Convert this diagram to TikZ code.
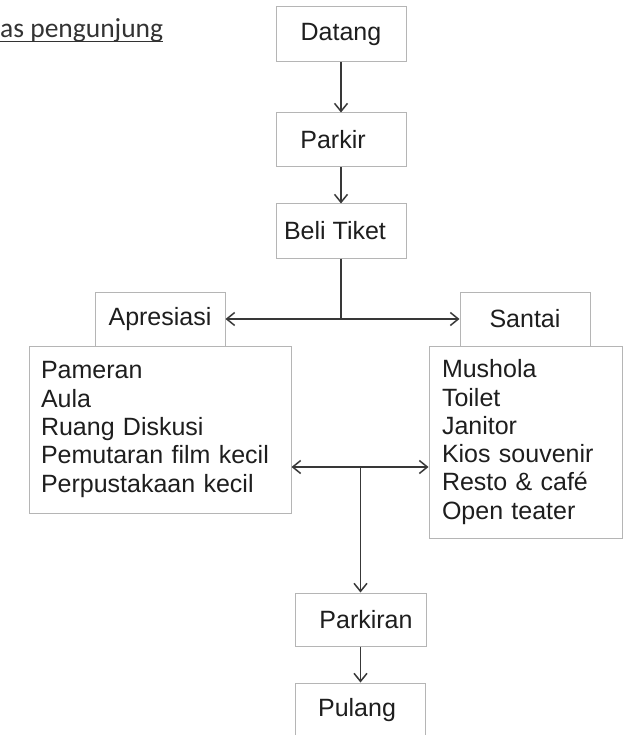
\documentclass[tikz,border=0pt]{standalone}
\usepackage{fontspec}
\setmainfont{Liberation Sans}
\newfontfamily\titlefont{Carlito}
\usetikzlibrary{arrows.meta}
\definecolor{boxgray}{HTML}{B5B5B5}
\definecolor{linegray}{HTML}{383838}
\definecolor{textgray}{HTML}{1E1E1E}
\definecolor{titlegray}{HTML}{333333}
\begin{document}
\begin{tikzpicture}[x=1pt,y=-1pt,
  box/.style={draw=boxgray, line width=1pt, rectangle, inner sep=0pt, text=textgray,
    font=\fontsize{25}{28.3}\selectfont},
  flowbox/.style={box, minimum width=130pt, minimum height=54pt},
  listbox/.style={box, align=left},
  conn/.style={draw=linegray, line width=1.5pt},
  tip/.style={-{Straight Barb[length=8pt,width=13pt,line width=1.5pt]}},
]
\useasboundingbox (0,0) rectangle (636,735);
\clip (0,0) rectangle (636,735);
\fill[white] (0,0) rectangle (636,735);

% title
\node[anchor=base west, inner sep=0pt, font=\titlefont\fontsize{27.5}{30}\selectfont, text=titlegray] (title) at (0,38) {as pengunjung};
\draw[titlegray, line width=0.9pt] ([yshift=1.5pt]title.south west) -- ([yshift=1.5pt]title.south east);

% flow boxes
\node[flowbox, minimum height=55pt] (datang) at (341,34.5) {Datang};
\node[flowbox] (parkir) at (341,140) {\hspace*{-16pt}Parkir};
\node[flowbox] (beli) at (341,231) {\hspace*{-12pt}Beli Tiket};
\node[flowbox] (apresiasi) at (160,319) {Apresiasi};
\node[flowbox] (santai) at (525,319) {Santai};
\node[listbox, minimum width=262pt, minimum height=167pt, text width=238pt, inner xsep=12pt] (listA) at (160,429.5)
  {Pameran\\Aula\\Ruang Diskusi\\Pemutaran film kecil\\Perpustakaan kecil};
\node[listbox, minimum width=193pt, minimum height=192pt, text width=167pt, inner xsep=13pt] (listB) at (525.5,442)
  {Mushola\\Toilet\\Janitor\\Kios souvenir\\Resto \& café\\Open teater};
\node[flowbox, minimum width=131pt, minimum height=53pt] (parkiran) at (360.5,619.5) {Parkiran\hspace*{-11pt}};
\node[flowbox, minimum width=130pt] (pulang) at (360.5,710) {\hspace*{-7pt}Pulang};

% connectors
\draw[conn,tip] (datang) -- (parkir);
\draw[conn,tip] (parkir) -- (beli);
\coordinate (j1) at (341,319);
\draw[conn] (beli.south) -- (j1);
\draw[conn,tip] (j1) -- (apresiasi.east);
\draw[conn,tip] (j1) -- (santai.west);
\coordinate (j2) at (360.5,467);
\draw[conn,tip] (j2) -- (listA.east |- j2);
\draw[conn,tip] (j2) -- (listB.west |- j2);
\draw[conn,tip] (j2) -- (parkiran.north);
\draw[conn,tip] (parkiran) -- (pulang);
\end{tikzpicture}
\end{document}
